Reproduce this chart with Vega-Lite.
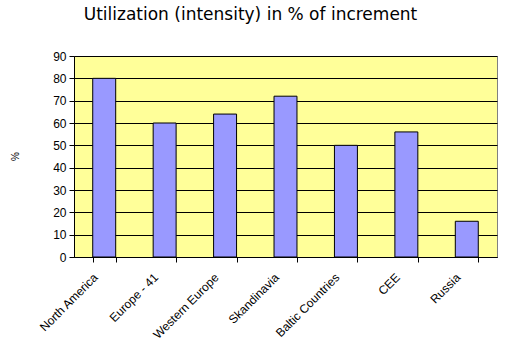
{
  "$schema": "https://vega.github.io/schema/vega-lite/v6.json",
  "width": 423,
  "height": 201,
  "autosize": {"type": "none"},
  "padding": {"left": 74, "top": 56, "right": 8, "bottom": 94},
  "background": "white",
  "title": {
    "text": "Utilization (intensity) in % of increment",
    "font": "DejaVu Sans",
    "fontSize": 17,
    "fontWeight": "normal",
    "color": "black",
    "anchor": "middle",
    "dx": -35,
    "dy": -22
  },
  "config": {
    "view": {"fill": "#FFFF99", "stroke": "#808080", "strokeWidth": 1},
    "axis": {"labelFont": "Liberation Sans", "titleFont": "Liberation Sans", "labelColor": "black", "titleColor": "black"}
  },
  "data": {
    "values": [
      {"region": "North America", "value": 80},
      {"region": "Europe - 41", "value": 60},
      {"region": "Western Europe", "value": 64},
      {"region": "Skandinavia", "value": 72},
      {"region": "Baltic Countries", "value": 50},
      {"region": "CEE", "value": 56},
      {"region": "Russia", "value": 16}
    ]
  },
  "mark": {"type": "bar", "fill": "#9999FF", "stroke": "black", "strokeWidth": 1},
  "encoding": {
    "x": {
      "field": "region",
      "type": "nominal",
      "sort": null,
      "scale": {"paddingInner": 0.62, "paddingOuter": 0.31},
      "axis": {
        "title": null,
        "labelAngle": -45,
        "labelAlign": "right",
        "labelBaseline": "middle",
        "labelFontSize": 12,
        "labelPadding": 13,
        "labelOffset": -9,
        "tickBand": "extent",
        "tickSize": 5,
        "tickColor": "black",
        "domainColor": "black",
        "grid": false
      }
    },
    "y": {
      "field": "value",
      "type": "quantitative",
      "scale": {"domain": [0, 90], "nice": false},
      "axis": {
        "title": "%",
        "titleFontSize": 10,
        "titleFontWeight": "normal",
        "titleX": -59,
        "titleY": 100,
        "titleAngle": -90,
        "titleAlign": "center",
        "titleBaseline": "middle",
        "values": [0, 10, 20, 30, 40, 50, 60, 70, 80, 90],
        "labelFontSize": 12,
        "labelPadding": 3,
        "tickSize": 5,
        "tickColor": "black",
        "domainColor": "black",
        "grid": true,
        "gridColor": "black",
        "gridOpacity": 1,
        "gridWidth": 1
      }
    }
  }
}
